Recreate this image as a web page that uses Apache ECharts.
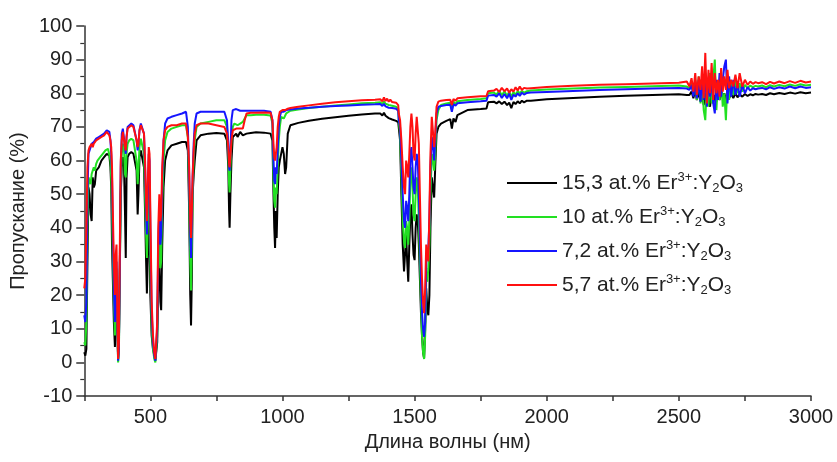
<!DOCTYPE html>
<html>
<head>
<meta charset="utf-8">
<script src="https://cdn.jsdelivr.net/npm/echarts@6/dist/echarts.min.js"></script>
<style>html,body{margin:0;padding:0;background:#fff;}#c{width:837px;height:462px;}</style>
</head>
<body>
<div id="c"></div>
<script>
// Wavelength grid (nm)
const wl = [
 250,254,258,262,266,270,274,278,282,286,290,295,300,305,310,315,320,325,330,335,340,345,
 349,352,355,358,362,366,369,372,375,378,381,384,388,392,396,400,
 404,407,410,414,420,428,436,443,448,452,455,459,464,470,476,
 480,484,487,490,494,497,500,505,510,515,519,522,526,530,534,538,541,545,550,556,
 565,580,600,620,635,642,647,651,654,657,660,664,668,675,
 690,720,750,780,790,795,798,800,803,807,812,818,825,830,840,850,857,864,
 880,900,930,955,962,966,969,972,975,978,982,986,990,995,1000,1005,1010,1014,1020,1030,
 1060,1100,1150,1200,1250,1300,1350,1370,1378,1384,1390,1396,1402,1408,1415,1422,1430,1438,
 1440,1445,1450,1455,1460,1464,1468,1472,1476,1480,1484,1488,1492,1496,1500,1504,1508,1512,1516,1520,1524,1528,1532,1536,1540,1544,1548,1552,1556,1560,1565,1570,1574,1578,1583,1590,1600,
 1620,1635,1641,1647,1655,1662,1700,1750,1772,1778,1800,
 1810,1820,1830,1840,1850,1858,1866,1874,1882,1890,1898,1906,1914,1925,1940,
 2000,2100,2200,2300,2400,2500,2530,
 2540,2548,2555,2562,2568,2575,2582,2588,2594,2600,2606,2612,2618,2624,2630,2636,2642,2648,2654,2660,2666,2672,2678,2684,2690,2698,2706,2714,2722,2730,2740,2750,2760,2770,2780,2790,2800,
 2815,2830,2845,2860,2880,2900,2920,2940,2960,2980,3000
];

// 15,3 at.% (black)
const tBlack = [
 3,2,4,30,52,50,44,42,55,52,53,57,57.5,58,58.5,60,60.5,61,61.5,62,62.5,61.5,
 58,52,35,25,12,4.6,15,25,12,1,5,25,50,58,61,60,
 45,31,55,61,62,62.5,62,61.5,57,44,50,61,63,62.5,58,
 45,30,20.5,30,45,40,20,8,4,2,0.5,1,6,25,30,18,15.5,35,52,60,
 63,64.5,65,65.5,65.5,63,45,20,11,25,50,55.6,60,66,
 67.5,68,68.2,68,66,58,45,40,50,60,67,66.5,68,67,68.5,67.5,68,68,
 68.2,68.4,68.3,68,66,50,40,34,45,37,50,58,60,62,64,62,56,58,68,70.5,
 71.2,71.8,72.4,72.9,73.3,73.7,74,74,73.4,74.2,73.3,73.5,72.6,72.8,72.2,72.3,71.8,71.4,
 71,66,50,35,27,26.5,38,30,24,35,44,47,38,32,30.4,40,44,42,35,25,15,8,3,1.2,10,22,16,14,20,40,55,55,49,58,68,70,71,
 71.8,72.3,69.5,72.5,71.5,73.5,75,75.3,75.5,77.3,77.5,
 77,77.6,76.8,77.5,76.5,77.2,75.6,77.4,76.8,77.6,77,77.8,77.3,77.8,77.8,
 78.2,78.6,79,79.3,79.5,79.7,79.5,
 79.5,80.5,78.5,81,78,80.5,77.5,79.5,76.5,80,77,79,76,80.5,77,79.5,77.5,80,78,80.5,78.5,80,78,80.5,78.5,79.8,78.6,80,78.8,79.7,79,79.8,79.2,79.7,79.4,79.8,79.6,
 79.8,79.5,80,79.7,80.1,79.8,80.2,79.9,80.3,80,80.2
];

// 10 at.% (green)
const tGreen = [
 6,5,12,40,55,54,53,56,57,58,57,59,60,60.5,61,61.5,62,62.5,63,63,63.5,63,
 60,55,45,32,18,8,20,28,12,0,3,22,52,62,65,64,
 56,55,62,65,66,66.5,66,65.5,60,53,57,64,66.5,66,62,
 50,38,31,40,55,52,30,10,4,1,0,0,8,30,38,28,30,48,60,66,
 68.5,69.5,70,70.5,70.5,67,50,30,21.4,35,50,60,66,70,
 71,71.5,72,72,70,62,53,50.5,58,66,70,71,71,70.5,71,71.5,72.5,73.5,
 73.5,73.6,73.6,73.4,71,55,48,46,52,50,58,66,70,73,73.5,72.5,73,74,74.5,74.8,
 75.2,75.6,76,76.4,76.7,77,77.2,77.3,76.8,77.6,76.9,77.3,76.5,76.9,76.3,76.6,76,75.4,
 72,68,55,42,36,34,42,40,35,42,55,58,52,44,42,50,55,52,42,30,18,8,3,1,8,25,24,28,35,50,62,60,57,62,72,75,76.5,
 77,77.2,75,77.5,76.8,77.6,78,78.3,78.5,80,80.2,
 79.6,80.8,79.4,80.6,79.2,80.5,79,80.3,79.6,80.6,80,80.7,80.2,80.6,80.8,
 81.1,81.4,81.7,81.9,82.1,82.3,82,
 81.5,83,79.5,84,78,85,77,84,75,72,83,76,86,77,84,90,75,83,78,85,76,80,72,84,78,83,79.5,84,80,83,80.5,82.5,81.5,82.3,81.8,82.2,82,
 82.3,81.8,82.4,82,82.5,82.1,82.6,82.2,82.7,82.3,82.5
];

// 7,2 at.% (blue)
const tBlue = [
 14,12,18,50,62,63,64,65,64.5,65.5,66,66.5,67,67,67.5,67.5,68,68,68.5,69,69,68.5,
 66,62,55,40,22,12,24,30,14,0.5,4,25,58,68,69.5,70,
 64,62,67,70,70.5,71,70.5,70,66,63,65,69,71,70.5,68,
 58,45,38,48,62,60,40,15,6,2,0.5,0.5,10,35,45,35,38,55,66,71,
 72.5,73,73.5,74,74.5,70,55,38,31,42,55,65,71,74,
 74.5,74.5,74.5,74.5,72,65,58,57,62,72,75,75.5,75.3,74.8,74.8,74.8,74.8,74.8,
 74.8,74.8,74.8,74.5,72,60,54,53,58,56,63,70,73,74.5,74.8,74.5,74.8,75,75.2,75.2,
 75.5,75.7,76,76.2,76.4,76.6,76.7,76.8,76.2,76.9,76.1,76.6,75.7,76.2,75.6,75.9,75.4,74.8,
 72,70,60,50,42,40,48,46,42,50,62,64,58,52,50,58,62,60,50,38,25,15,10,7.6,12,30,32,34,42,58,67,64,60,66,74,76,76.2,
 76.5,76.6,74.5,76.8,76.3,77,77.3,77.6,77.8,79.3,79.5,
 79,80,78.6,79.8,78.5,79.9,78,79.6,79,80,79.2,80.2,79.6,80.1,80.2,
 80.4,80.7,81,81.2,81.4,81.6,81.4,
 81,82.5,79,83.5,78.5,84,77.5,85,78,86,76,84,79,85,77,74,84,78,86,79,84,88,90,77,85,79,84,79.5,83,79,82.5,80,81.8,80.8,81.5,81.2,81.4,
 81.6,81.2,81.8,81.3,81.8,81.4,82,81.5,82,81.6,81.8
];

// 5,7 at.% (red)
const tRed = [
 22,25,40,58,63,64,64.5,65,64,65,65.5,66,66,66.5,67,67,67.5,67.5,68,68.5,68,67.5,
 66,64,58,45,30,20,32,35,15,1,6,30,60,66,68.5,69,
 64,63,67,69.5,70,70.5,70,69.5,66,64,65,69,70.5,70,68,
 60,48,42,52,64,62,45,18,8,3,1,0.5,12,40,50,42,44,58,66,69,
 70,70.5,70.5,71,71,67,58,42,37,45,55,63,68,70.5,
 71,71,70.5,70,68,64,59,58,61,66,69,69.5,69.5,69.5,69.5,69.5,72,74,
 74.2,74.2,74.3,74.2,72,65,61,60,62,64,70,73,74.5,74,75,74.5,75,75.2,75.4,75.6,
 76,76.4,76.9,77.3,77.6,77.9,78.1,78.2,77.6,78.8,77.7,78.4,77.5,78.1,77.4,77.8,77.2,76.5,
 74,72,66,58,52,50,60,58,55,62,70,74,70,62,60,68,73,73.5,65,50,35,25,18,14.6,22,35,32,30,45,62,73,68,64,68,76,77.5,77.8,
 78,78.1,76.5,78.3,77.8,78.5,78.8,79.1,79.2,80.6,80.8,
 81.3,80.4,81.6,80.6,81.4,80.2,81.2,80.5,81.8,80.8,82,81,81.6,81.4,81.5,
 81.9,82.2,82.5,82.7,82.9,83.1,83.5,
 82,84.5,80.5,86,79.5,85,81,88,78.5,92,77,87,80,89,78,86,80,84,79,87.5,80.5,85,81,87,81.5,84,82,85.5,81.5,86,82,84,82.5,83.5,82.8,83.3,83,
 83.3,82.7,83.4,82.9,83.5,83,83.6,83.1,83.7,83.2,83.5
];

const seriesNames = ['15,3','10','7,2','5,7'];
const seriesColors = ['#000000','#22e022','#1515ff','#ff1010'];
const seriesValues = [tBlack, tGreen, tBlue, tRed];

const xTicks = [500,1000,1500,2000,2500,3000];
const FONT = 'Liberation Sans, Arial, Helvetica, sans-serif';

const chart = echarts.init(document.getElementById('c'), null, {renderer:'canvas'});

const series = seriesNames.map((nm, k) => {
  const vals = seriesValues[k];
  const n = Math.min(wl.length, vals.length);
  if (wl.length !== vals.length) console.error('length mismatch', nm, wl.length, vals.length);
  const data = [];
  for (let i = 0; i < n; i++) data.push([wl[i], vals[i]]);
  return {
    name: nm + ' at.% Er3+:Y2O3',
    type: 'line',
    data: data,
    symbol: 'none',
    showSymbol: false,
    animation: false,
    lineStyle: {color: seriesColors[k], width: 2},
    itemStyle: {color: seriesColors[k]},
    z: 2 + k
  };
});

chart.setOption({
  animation: false,
  backgroundColor: '#ffffff',
  grid: {left: 84, right: 26, top: 26, bottom: 66, containLabel: false},
  legend: {
    orient: 'vertical',
    left: 507,
    top: 171,
    padding: 0,
    itemWidth: 50,
    itemHeight: 2,
    itemGap: 10,
    icon: 'rect',
    data: series.map(s => s.name),
    formatter: function (name) {
      const p = name.split(' at.%')[0];
      return '{n|' + p + ' at.% Er}{sup|3+}{n|:Y}{sub|2}{n|O}{sub|3}';
    },
    textStyle: {
      color: '#222',
      fontFamily: FONT,
      fontSize: 21,
      rich: {
        n: {fontSize: 21, fontFamily: FONT, color: '#222', lineHeight: 24, verticalAlign: 'middle'},
        sup: {fontSize: 13, fontFamily: FONT, color: '#222', lineHeight: 12, verticalAlign: 'top'},
        sub: {fontSize: 13, fontFamily: FONT, color: '#222', lineHeight: 12, verticalAlign: 'bottom'}
      }
    }
  },
  xAxis: {
    type: 'value',
    min: 250,
    max: 3000,
    interval: 250,
    name: 'Длина волны (нм)',
    nameLocation: 'middle',
    nameGap: 36,
    nameTextStyle: {fontSize: 20, fontFamily: FONT, color: '#222'},
    axisLine: {show: true, onZero: false, lineStyle: {color: '#333', width: 1.5}},
    axisTick: {show: true, inside: false, length: 5, lineStyle: {color: '#333', width: 1.5}},
    axisLabel: {
      fontSize: 20, fontFamily: FONT, color: '#222', margin: 11,
      formatter: function (v) { return xTicks.indexOf(v) >= 0 ? String(v) : ''; }
    },
    splitLine: {show: false}
  },
  yAxis: {
    type: 'value',
    min: -10,
    max: 100,
    interval: 10,
    name: 'Пропускание (%)',
    nameLocation: 'middle',
    nameGap: 52,
    nameTextStyle: {fontSize: 20, fontFamily: FONT, color: '#222'},
    axisLine: {show: true, onZero: false, lineStyle: {color: '#333', width: 1.5}},
    axisTick: {show: true, inside: false, length: 8, lineStyle: {color: '#333', width: 1.5}},
    minorTick: {show: true, splitNumber: 2, length: 4, lineStyle: {color: '#333', width: 1.2}},
    axisLabel: {fontSize: 20, fontFamily: FONT, color: '#222', margin: 12},
    splitLine: {show: false},
    minorSplitLine: {show: false}
  },
  series: series
});
</script>
</body>
</html>
